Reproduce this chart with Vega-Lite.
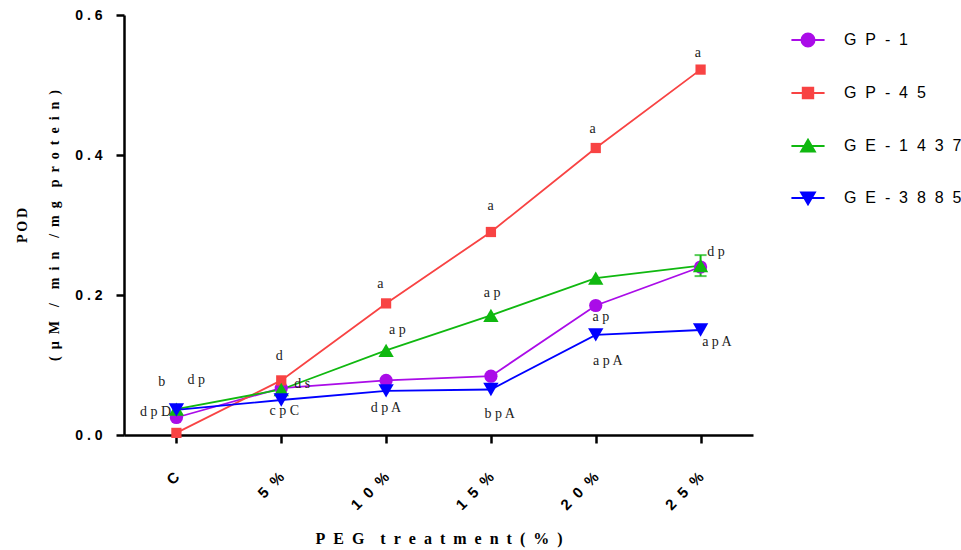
{
  "$schema": "https://vega.github.io/schema/vega-lite/v6.json",
  "width": 629,
  "height": 420,
  "autosize": {"type": "none"},
  "padding": {"left": 124, "top": 15, "right": 208, "bottom": 115},
  "background": "white",
  "config": {
    "view": {"stroke": null},
    "axis": {"grid": false},
    "legend": {
      "orient": "none",
      "legendX": 676,
      "legendY": 17,
      "title": null,
      "padding": 0,
      "symbolSize": 169,
      "symbolStrokeWidth": 2,
      "labelFont": "Liberation Sans",
      "labelFontSize": 16,
      "labelColor": "black",
      "labelOffset": 28,
      "rowPadding": 32
    }
  },
  "datasets": {
    "pod": [
      {"treatment": "C", "level": 0, "series": "GP-1", "pod": 0.025},
      {"treatment": "5%", "level": 1, "series": "GP-1", "pod": 0.067},
      {"treatment": "10%", "level": 2, "series": "GP-1", "pod": 0.078},
      {"treatment": "15%", "level": 3, "series": "GP-1", "pod": 0.084},
      {"treatment": "20%", "level": 4, "series": "GP-1", "pod": 0.185},
      {"treatment": "25%", "level": 5, "series": "GP-1", "pod": 0.240},
      {"treatment": "C", "level": 0, "series": "GP-45", "pod": 0.003},
      {"treatment": "5%", "level": 1, "series": "GP-45", "pod": 0.078},
      {"treatment": "10%", "level": 2, "series": "GP-45", "pod": 0.188},
      {"treatment": "15%", "level": 3, "series": "GP-45", "pod": 0.290},
      {"treatment": "20%", "level": 4, "series": "GP-45", "pod": 0.410},
      {"treatment": "25%", "level": 5, "series": "GP-45", "pod": 0.522},
      {"treatment": "C", "level": 0, "series": "GE-1437", "pod": 0.037},
      {"treatment": "5%", "level": 1, "series": "GE-1437", "pod": 0.065},
      {"treatment": "10%", "level": 2, "series": "GE-1437", "pod": 0.121},
      {"treatment": "15%", "level": 3, "series": "GE-1437", "pod": 0.171},
      {"treatment": "20%", "level": 4, "series": "GE-1437", "pod": 0.224},
      {"treatment": "25%", "level": 5, "series": "GE-1437", "pod": 0.242},
      {"treatment": "C", "level": 0, "series": "GE-3885", "pod": 0.036},
      {"treatment": "5%", "level": 1, "series": "GE-3885", "pod": 0.050},
      {"treatment": "10%", "level": 2, "series": "GE-3885", "pod": 0.063},
      {"treatment": "15%", "level": 3, "series": "GE-3885", "pod": 0.065},
      {"treatment": "20%", "level": 4, "series": "GE-3885", "pod": 0.143},
      {"treatment": "25%", "level": 5, "series": "GE-3885", "pod": 0.150}
    ],
    "err": [
      {"treatment": "25%", "level": 5, "series": "GE-1437", "lo": 0.227, "hi": 0.257}
    ],
    "notes": [
      {"level": -0.140, "pod": 0.0761, "note": "b"},
      {"level": 0.188, "pod": 0.0786, "note": "d p"},
      {"level": -0.199, "pod": 0.0333, "note": "d p D"},
      {"level": 0.981, "pod": 0.1129, "note": "d"},
      {"level": 1.201, "pod": 0.0729, "note": "d s"},
      {"level": 1.029, "pod": 0.0347, "note": "c p C"},
      {"level": 1.946, "pod": 0.2157, "note": "a"},
      {"level": 2.108, "pod": 0.150, "note": "a p"},
      {"level": 1.998, "pod": 0.0386, "note": "d p A"},
      {"level": 2.997, "pod": 0.327, "note": "a"},
      {"level": 3.011, "pod": 0.2033, "note": "a p"},
      {"level": 3.083, "pod": 0.030, "note": "b p A"},
      {"level": 3.971, "pod": 0.437, "note": "a"},
      {"level": 4.048, "pod": 0.1686, "note": "a p"},
      {"level": 4.115, "pod": 0.106, "note": "a p A"},
      {"level": 4.974, "pod": 0.5457, "note": "a"},
      {"level": 5.146, "pod": 0.2614, "note": "d p"},
      {"level": 5.156, "pod": 0.1333, "note": "a p A"}
    ]
  },
  "encoding": {
    "x": {
      "field": "level",
      "type": "quantitative",
      "scale": {"domain": [-0.5, 5.5], "nice": false, "zero": false},
      "axis": {
        "title": "P\u2002E\u2002G\u2002\u2002t\u2002r\u2002e\u2002a\u2002t\u2002m\u2002e\u2002n\u2002t\u2002(\u2002%\u2002)",
        "values": [0, 1, 2, 3, 4, 5],
        "labelExpr": "['C', '5\u00a0\u00a0%', '1\u00a0\u00a00\u00a0\u00a0%', '1\u00a0\u00a05\u00a0\u00a0%', '2\u00a0\u00a00\u00a0\u00a0%', '2\u00a0\u00a05\u00a0\u00a0%'][datum.value]",
        "labelAngle": -45,
        "labelAlign": "right",
        "labelBaseline": "middle",
        "labelFont": "Liberation Sans",
        "labelFontWeight": "bold",
        "labelFontSize": 15,
        "labelColor": "black",
        "labelPadding": 31,
        "labelFlush": false,
        "labelOverlap": false,
        "domainColor": "black",
        "domainWidth": 2.5,
        "tickColor": "black",
        "tickWidth": 2.5,
        "tickSize": 8,
        "titleFont": "Liberation Serif",
        "titleFontWeight": "bold",
        "titleFontSize": 16,
        "titleColor": "black",
        "titlePadding": 18
      }
    },
    "y": {
      "field": "pod",
      "type": "quantitative",
      "scale": {"domain": [0, 0.6], "nice": false},
      "axis": {
        "title": ["P\u2009O\u2009D", "(\u2002µ\u2002M\u2002\u2002/\u2002\u2002m\u2002i\u2002n\u2002\u2002/\u2002m\u2002g\u2002\u2002p\u2002r\u2002o\u2002t\u2002e\u2002i\u2002n\u2002)"],
        "values": [0, 0.2, 0.4, 0.6],
        "labelExpr": "replace(format(datum.value, '.1f'), '.', '\u00a0.\u00a0')",
        "labelFont": "Liberation Sans",
        "labelFontWeight": "bold",
        "labelFontSize": 14,
        "labelColor": "black",
        "labelPadding": 14,
        "labelFlush": false,
        "domainColor": "black",
        "domainWidth": 2.5,
        "tickColor": "black",
        "tickWidth": 2.5,
        "tickSize": 8,
        "titleFont": "Liberation Serif",
        "titleFontWeight": "bold",
        "titleFontSize": 14,
        "titleColor": "black",
        "titleLineHeight": 32,
        "titlePadding": 13
      }
    }
  },
  "layer": [
    {
      "data": {"name": "pod"},
      "mark": {"type": "line", "strokeWidth": 1.8},
      "encoding": {
        "color": {
          "field": "series",
          "type": "nominal",
          "scale": {"domain": ["GP-1", "GP-45", "GE-1437", "GE-3885"], "range": ["#AA0CE8", "#F84343", "#10B810", "#0000FF"]},
          "legend": {
            "labelExpr": "join(split(datum.label, ''), '\u00a0\u00a0')",
            "encode": {
              "symbols": {
                "update": {
                  "shape": {"signal": "datum.value === 'GP-1' ? 'M-2.55,0H2.55M1,0A1,1,0,1,1,-1,0A1,1,0,1,1,1,0Z' : datum.value === 'GP-45' ? 'M-2.55,0H2.55M-0.8,-0.8H0.8V0.8H-0.8Z' : datum.value === 'GE-1437' ? 'M-2.55,0H2.55M0,-0.95L1.05,0.85H-1.05Z' : 'M-2.55,0H2.55M0,0.95L1.05,-0.85H-1.05Z'"},
                  "fill": {"scale": "color", "field": "value"},
                  "stroke": {"scale": "color", "field": "value"},
                  "strokeWidth": {"value": 2}
                }
              }
            }
          }
        },
        "detail": {"field": "series"}
      }
    },
    {
      "data": {"name": "err"},
      "mark": {"type": "rule", "strokeWidth": 2, "color": "#10B810"},
      "encoding": {"y": {"field": "lo", "type": "quantitative"}, "y2": {"field": "hi"}}
    },
    {
      "data": {"name": "err"},
      "mark": {"type": "tick", "orient": "horizontal", "size": 12, "thickness": 2, "color": "#10B810"},
      "encoding": {"y": {"field": "lo", "type": "quantitative"}}
    },
    {
      "data": {"name": "err"},
      "mark": {"type": "tick", "orient": "horizontal", "size": 12, "thickness": 2, "color": "#10B810"},
      "encoding": {"y": {"field": "hi", "type": "quantitative"}}
    },
    {
      "data": {"name": "pod"},
      "transform": [{"filter": "datum.series === 'GP-1'"}],
      "mark": {"type": "point", "filled": true, "opacity": 1, "shape": "circle", "size": 175},
      "encoding": {"color": {"field": "series", "type": "nominal", "legend": null}}
    },
    {
      "data": {"name": "pod"},
      "transform": [{"filter": "datum.series === 'GP-45'"}],
      "mark": {"type": "point", "filled": true, "opacity": 1, "shape": "square", "size": 105},
      "encoding": {"color": {"field": "series", "type": "nominal", "legend": null}}
    },
    {
      "data": {"name": "pod"},
      "transform": [{"filter": "datum.series === 'GE-1437'"}],
      "mark": {"type": "point", "filled": true, "opacity": 1, "shape": "triangle-up", "size": 235},
      "encoding": {"color": {"field": "series", "type": "nominal", "legend": null}}
    },
    {
      "data": {"name": "pod"},
      "transform": [{"filter": "datum.series === 'GE-3885'"}],
      "mark": {"type": "point", "filled": true, "opacity": 1, "shape": "triangle-down", "size": 235},
      "encoding": {"color": {"field": "series", "type": "nominal", "legend": null}}
    },
    {
      "data": {"name": "notes"},
      "mark": {"type": "text", "font": "Liberation Serif", "fontSize": 14, "color": "#222222", "align": "center", "baseline": "middle"},
      "encoding": {"text": {"field": "note"}}
    }
  ]
}
